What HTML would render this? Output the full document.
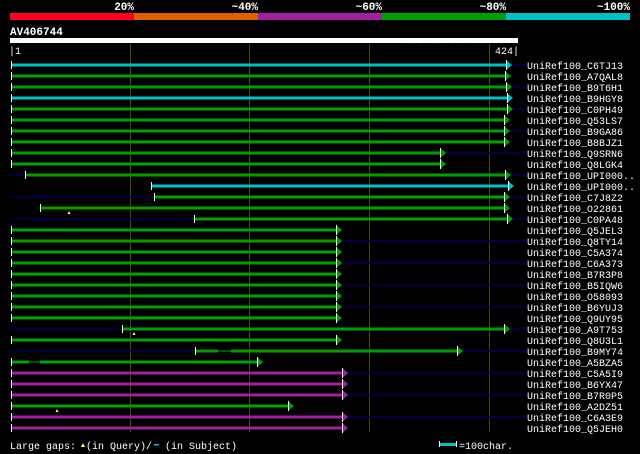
<!DOCTYPE html>
<html><head><meta charset="utf-8"><style>
body{margin:0;background:#000;width:640px;height:454px;overflow:hidden}
svg{display:block}
text{font-family:"Liberation Mono",monospace;font-size:10px;fill:#fff}
</style></head><body>
<svg width="640" height="454" xmlns="http://www.w3.org/2000/svg">
<rect width="640" height="454" fill="#000"/>
<g font-weight="bold" text-anchor="end" style="font-size:11px">
<text x="134" y="10" style="font-size:11px">20%</text><text x="258" y="10" style="font-size:11px">~40%</text><text x="382" y="10" style="font-size:11px">~60%</text><text x="506" y="10" style="font-size:11px">~80%</text><text x="630" y="10" style="font-size:11px">~100%</text>
</g>
<rect x="10" y="13" width="124" height="7" fill="#ff0020"/>
<rect x="134" y="13" width="124" height="7" fill="#e06000"/>
<rect x="258" y="13" width="124" height="7" fill="#a020a0"/>
<rect x="382" y="13" width="124" height="7" fill="#00a000"/>
<rect x="506" y="13" width="124" height="7" fill="#00c0c8"/>
<text x="10" y="35" font-weight="bold" style="font-size:11px">AV406744</text>
<text x="402" y="44" style="fill:#101050;font-size:8px">AlignView.pm Beta rel.7</text>
<rect x="10" y="38" width="508" height="5" fill="#fff"/>
<text x="9" y="54">|1</text><text x="519" y="54" text-anchor="end">424|</text>
<g stroke="#484818" stroke-width="1">
<line x1="130.5" y1="44" x2="130.5" y2="432"/><line x1="249.5" y1="44" x2="249.5" y2="432"/><line x1="369.5" y1="44" x2="369.5" y2="432"/><line x1="489.5" y1="44" x2="489.5" y2="432"/>
</g>
<g id="rows"></g>
<text x="10" y="449">Large gaps:</text>
<polygon points="81,447 83,443 85,447" fill="#ffff60"/>
<text x="86" y="449">(in Query)/</text><rect x="154" y="444" width="5" height="1.5" fill="#00c0c8"/>
<text x="165" y="449">(in Subject)</text>
<rect x="439" y="441" width="1" height="6" fill="#fff"/><rect x="440" y="443" width="16" height="3" fill="#00c0c8"/><rect x="456" y="441" width="1" height="6" fill="#fff"/>
<text x="459" y="449">=100char.</text>
</svg>
<script>
var G="#00a000",C="#00c0c8",M="#a020a0";
var R=[["C6TJ13",12,512,C],["A7QAL8",12,511,G],["B9T6H1",12,512,G],["B9HGY8",12,513,C],["C0PH49",12,513,G],["Q53LS7",12,510,G],["B9GA86",12,510,G],["B8BJZ1",12,510,G],["Q9SRN6",12,446,G],["Q8LGK4",12,446,G],["UPI000..",26,511,G],["UPI000..",152,514,C],["C7J8Z2",155,510,G],["O22861",41,510,G,[69]],["C0PA48",195,513,G],["Q5JEL3",12,342,G],["Q8TY14",12,342,G],["C5A374",12,342,G],["C6A373",12,342,G],["B7R3P8",12,342,G],["B5IQW6",12,342,G],["O58093",12,342,G],["B6YUJ3",12,342,G],["Q9UY95",12,342,G],["A9T753",123,510,G,[134]],["Q8U3L1",12,342,G],["B9MY74",196,463,G,null,[218,231]],["A5BZA5",12,263,G,null,[29,40]],["C5A5I9",12,348,M],["B6YX47",12,348,M],["B7R0P5",12,348,M],["A2DZ51",12,294,G,[57]],["C6A3E9",12,348,M],["Q5JEH0",12,348,M]];
var s="";
R.forEach(function(r,i){var y=65+11*i;
if(i%2==0)s+='<rect x="10" y="'+(y-1)+'" width="517" height="2" fill="#000040"/>';
if(r[5]){s+='<rect x="'+r[1]+'" y="'+(y-1.5)+'" width="'+(r[5][0]-r[1])+'" height="3" fill="'+r[3]+'"/><rect x="'+r[5][0]+'" y="'+(y-0.5)+'" width="'+(r[5][1]-r[5][0])+'" height="1" fill="'+r[3]+'"/><rect x="'+r[5][1]+'" y="'+(y-1.5)+'" width="'+(r[2]-5-r[5][1])+'" height="3" fill="'+r[3]+'"/>';}
else s+='<rect x="'+r[1]+'" y="'+(y-1.5)+'" width="'+(r[2]-5-r[1])+'" height="3" fill="'+r[3]+'"/>';
s+='<rect x="'+(r[1]-1)+'" y="'+(y-4)+'" width="1" height="8" fill="#fff"/>';
var t=r[2],b=t-6;
s+='<polygon points="'+b+','+(y-5)+' '+t+','+y+' '+b+','+(y+5)+'" fill="'+r[3]+'"/><rect x="'+b+'" y="'+(y-5)+'" width="1" height="10" fill="#fff"/>';
if(r[4])r[4].forEach(function(g){s+='<polygon points="'+(g-1.5)+','+(y+6)+' '+g+','+(y+3)+' '+(g+1.5)+','+(y+6)+'" fill="#ffff60"/>';});
s+='<text x="527" y="'+(y+4)+'">UniRef100_'+r[0]+'</text>';
});
document.getElementById("rows").innerHTML=s;
</script>
</body></html>
